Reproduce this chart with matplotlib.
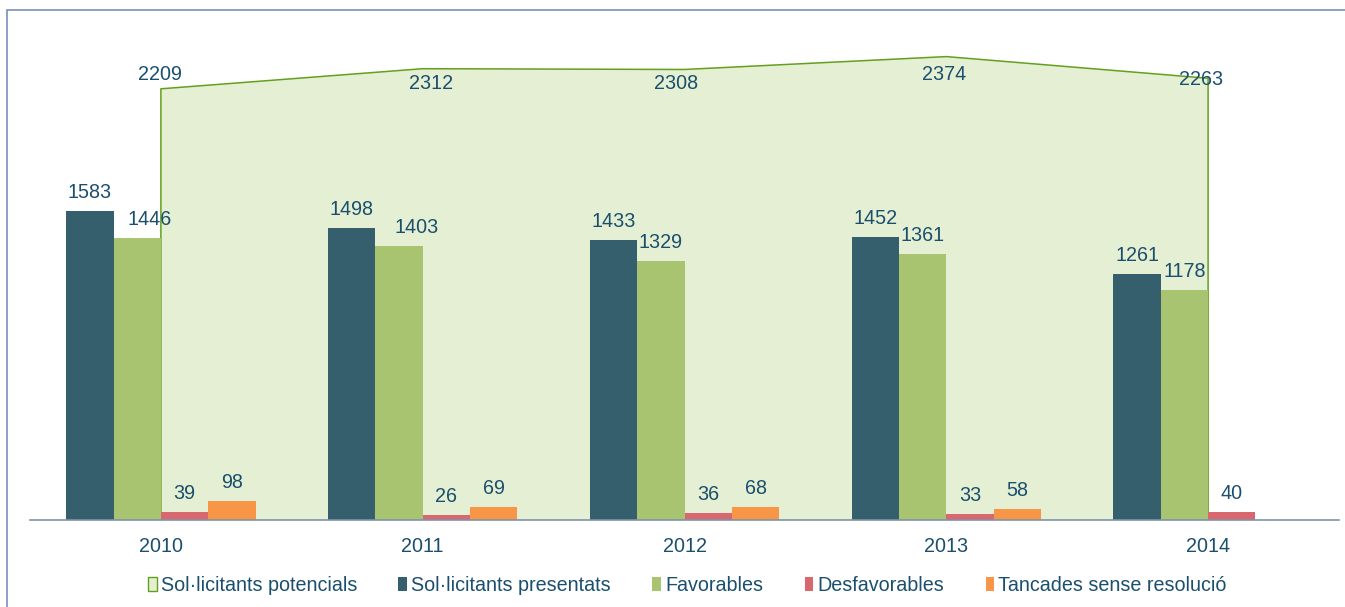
import matplotlib
matplotlib.use('Agg')
import matplotlib.pyplot as plt
import numpy as np
from matplotlib.patches import Patch, Rectangle

# data
years = ['2010', '2011', '2012', '2013', '2014']
potencials = [2209, 2312, 2308, 2374, 2263]
presentats = [1583, 1498, 1433, 1452, 1261]
favorables = [1446, 1403, 1329, 1361, 1178]
desfavorables = [39, 26, 36, 33, 40]
tancades = [98, 69, 68, 58, None]

# label offsets for the area series (pixels, baseline)
pot_offsets = [(-1, 9), (8, -20), (-8, -19.5), (-2, -23.4), (-7, -6.7)]
# horizontal shift of the favorables labels (pixels)
fav_dx = [12, 18, 0, 0, 0]

txt_col = '#1b4f6e'
plt.rcParams['font.family'] = ['Liberation Sans', 'DejaVu Sans']
fs = 14.2

fig = plt.figure(figsize=(13.45, 6.07), dpi=100)
ax = fig.add_axes([30 / 1345, 87 / 607, 1309 / 1345, 488 / 607])

x = np.arange(len(years))
w = 0.181

ax.fill_between(x, potencials, 0, facecolor='#e4efd3', edgecolor='none', zorder=1)
ax.plot(np.r_[x[0], x, x[-1]], np.r_[0, potencials, 0], color='#64a01c', lw=1.1, zorder=2)

series = [
    (presentats, '#365f6e', -1.5, [0] * 5),
    (favorables, '#a9c470', -0.5, fav_dx),
    (desfavorables, '#d9676f', 0.5, [0] * 5),
    (tancades, '#f79646', 1.5, [0] * 5),
]
for vals, col, off, shifts in series:
    for i, v in enumerate(vals):
        if v is None:
            continue
        ax.bar(x[i] + off * w, v, width=w, color=col, zorder=3)
        ax.annotate(str(v), (x[i] + off * w, v), xytext=(shifts[i], 13), textcoords='offset pixels',
                    ha='center', va='baseline', fontsize=fs, color=txt_col, zorder=5)

for i, v in enumerate(potencials):
    dx, dy = pot_offsets[i]
    ax.annotate(str(v), (x[i], v), xytext=(dx, dy), textcoords='offset pixels',
                ha='center', va='baseline', fontsize=fs, color=txt_col, zorder=5)

ax.set_xlim(-0.5, 4.5)
ax.set_ylim(0, 2500)
ax.set_xticks(x)
ax.set_xticklabels(years, fontsize=fs, color=txt_col)
ax.tick_params(axis='x', length=0, pad=12)
ax.set_yticks([])
for s in ['top', 'right', 'left']:
    ax.spines[s].set_visible(False)
ax.spines['bottom'].set_color('#7f93a8')
ax.spines['bottom'].set_linewidth(1.2)
ax.spines['bottom'].set_zorder(4)
ax.patch.set_alpha(0)

# chart frame
fig.patches.append(Rectangle((7 / 1345, -0.1), 1.5, 1.1 - 10 / 607, transform=fig.transFigure,
                             fill=False, edgecolor='#7a8fb8', lw=1.2))

handles = [
    Patch(facecolor='#e4efd3', edgecolor='#64a01c', lw=1),
    Patch(facecolor='#365f6e'),
    Patch(facecolor='#a9c470'),
    Patch(facecolor='#d9676f'),
    Patch(facecolor='#f79646'),
]
labels = ['Sol·licitants potencials', 'Sol·licitants presentats', 'Favorables',
          'Desfavorables', 'Tancades sense resolució']
leg = fig.legend(handles, labels, loc='center', bbox_to_anchor=(0.511, 0.035), ncol=5,
                 frameon=False, fontsize=fs, handlelength=0.45, handleheight=0.7,
                 handletextpad=0.2, columnspacing=2.1)
for t in leg.get_texts():
    t.set_color(txt_col)

fig.savefig('out.png', dpi=100)
